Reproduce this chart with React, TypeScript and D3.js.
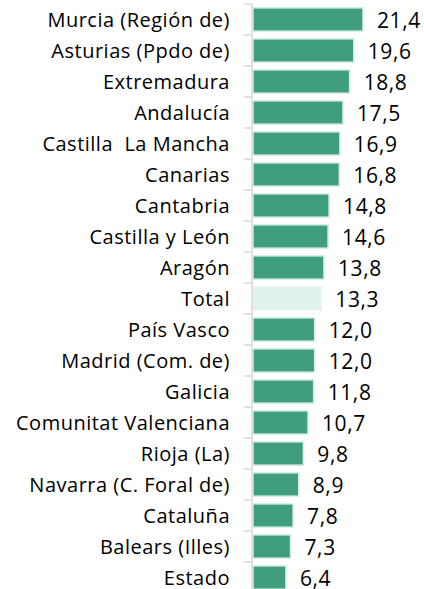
import React from "react";
import * as d3 from "d3";

const categories = [
  "Murcia (Región de)",
  "Asturias (Ppdo de)",
  "Extremadura",
  "Andalucía",
  "Castilla\u00a0 La Mancha",
  "Canarias",
  "Cantabria",
  "Castilla y León",
  "Aragón",
  "Total",
  "País Vasco",
  "Madrid (Com. de)",
  "Galicia",
  "Comunitat Valenciana",
  "Rioja (La)",
  "Navarra (C. Foral de)",
  "Cataluña",
  "Balears (Illes)",
  "Estado",
];
const values = [21.4, 19.6, 18.8, 17.5, 16.9, 16.8, 14.8, 14.6, 13.8, 13.3, 12.0, 12.0, 11.8, 10.7, 9.8, 8.9, 7.8, 7.3, 6.4];
const highlight = "Total";

const W = 424;
const H = 589;
const axisX = 252;
const FONT = "'Open Sans', 'Noto Sans', sans-serif";

export default function App() {
  const y = d3.scaleBand<string>().domain(categories).range([4, 4 + 31 * categories.length]).paddingInner(0.25).paddingOuter(0.125);
  const x = d3.scaleLinear().domain([0, 25]).range([axisX + 1, axisX + 1 + 128.5]);
  const step = y.step();
  const fmt = (v: number) => v.toFixed(1).replace(".", ",");
  return (
    <svg width={W} height={H} style={{ position: "absolute", left: 0, top: 0, background: "#fff" }}>
      {categories.map((c, i) => {
        const yy = y(c)!;
        const cy = yy + y.bandwidth() / 2;
        const v = values[i];
        const isH = c === highlight;
        return (
          <g key={c}>
            <rect
              x={x(0)}
              y={yy}
              width={x(v) - x(0)}
              height={y.bandwidth()}
              fill={isH ? "#e1f3ec" : "#409e7e"}
              stroke={isH ? "#e8f6f0" : "#d3eee3"}
              strokeWidth={1.5}
            />
            <text x={230} y={cy + 7} textAnchor="end" fontFamily={FONT} fontSize={20} letterSpacing={0.5} fill="#000">
              {c}
            </text>
            <text x={x(v) + 14} y={cy + 8.5} textAnchor="start" fontFamily={FONT} fontSize={21} letterSpacing={0.6} fill="#000">
              {fmt(v)}
            </text>
          </g>
        );
      })}
      <line x1={axisX} x2={axisX} y1={4} y2={H} stroke="#d9d9d9" strokeWidth={1.5} />
      {d3.range(categories.length + 1).map((i) => (
        <line key={i} x1={244} x2={axisX} y1={4 + i * step} y2={4 + i * step} stroke="#d9d9d9" strokeWidth={1.5} />
      ))}
    </svg>
  );
}
